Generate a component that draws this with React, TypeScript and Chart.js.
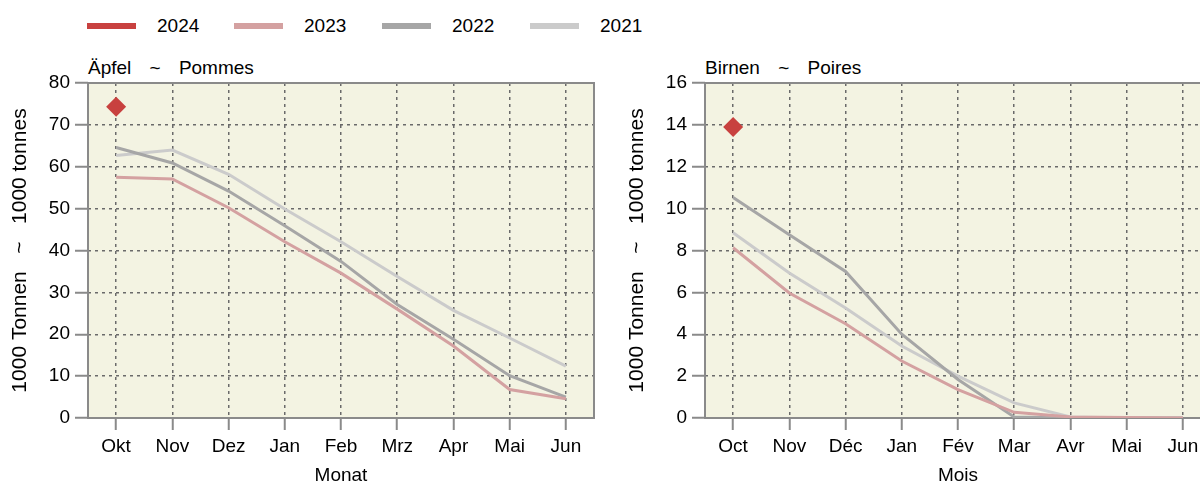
import React, { useEffect, useRef } from 'react';
import { Chart, registerables } from 'chart.js';

Chart.register(...registerables);

const FONT = '"Liberation Sans", Arial, Helvetica, sans-serif';
const FS = 19;
const FS_YTITLE = 21;

const seriesYears = ['2024', '2023', '2022', '2021'];
const seriesColors = ['#c8413f', '#d4a1a1', '#a6a6a6', '#cbcbcb'];

// Äpfel ~ Pommes (1000 t)
const monthsDE = ['Okt', 'Nov', 'Dez', 'Jan', 'Feb', 'Mrz', 'Apr', 'Mai', 'Jun'];
const apples2024 = [74.3, null, null, null, null, null, null, null, null];
const apples2023 = [57.5, 57.1, 50.2, 42.1, 34.6, 26.0, 17.2, 6.8, 4.6];
const apples2022 = [64.6, 60.9, 54.2, 45.9, 37.4, 27.1, 18.8, 10.1, 5.0];
const apples2021 = [62.7, 64.0, 58.2, 49.9, 42.1, 33.8, 25.7, 19.1, 12.4];
const applesTicks = { min: 0, max: 80, step: 10 };

// Birnen ~ Poires (1000 t)
const monthsFR = ['Oct', 'Nov', 'Déc', 'Jan', 'Fév', 'Mar', 'Avr', 'Mai', 'Jun'];
const pears2024 = [13.9, null, null, null, null, null, null, null, null];
const pears2023 = [8.13, 5.97, 4.5, 2.72, 1.36, 0.27, 0.05, 0.02, 0.0];
const pears2022 = [10.53, 8.75, 7.0, 4.0, 1.84, 0.05, 0.0, 0.0, 0.0];
const pears2021 = [8.85, 6.93, 5.25, 3.44, 2.0, 0.72, 0.05, 0.0, 0.0];
const pearsTicks = { min: 0, max: 16, step: 2 };

const yTitle = '1000 Tonnen   ~   1000 tonnes';

const BG = '#f3f3e2';
const GRID = '#6a6a6a';
const AXIS = '#8a8a8a';

const panelPlugin = {
  id: 'panelBox',
  beforeDraw(chart: any) {
    const { ctx, chartArea: a } = chart;
    ctx.save();
    ctx.fillStyle = BG;
    ctx.fillRect(a.left, a.top, a.right - a.left, a.bottom - a.top);
    ctx.restore();
  },
  beforeDatasetsDraw(chart: any) {
    const { ctx, chartArea: a } = chart;
    ctx.save();
    ctx.strokeStyle = AXIS;
    ctx.lineWidth = 2;
    ctx.strokeRect(a.left, a.top, a.right - a.left, a.bottom - a.top);
    ctx.restore();
  },
};

function buildConfig(labels: string[], s24: any[], s23: number[], s22: number[], s21: number[], yt: any, xTitle: string): any {
  const lineDs = (data: number[], i: number) => ({
    label: seriesYears[i],
    data,
    borderColor: seriesColors[i],
    backgroundColor: seriesColors[i],
    borderWidth: 3,
    pointRadius: 0,
    tension: 0,
    order: i,
  });
  const font = { family: FONT, size: FS };
  return {
    type: 'line',
    data: {
      labels,
      datasets: [
        {
          label: seriesYears[0],
          data: s24,
          showLine: false,
          pointStyle: 'rectRot',
          pointRadius: 10,
          pointBorderWidth: 0,
          backgroundColor: seriesColors[0],
          borderColor: seriesColors[0],
          order: 0,
        },
        lineDs(s23, 1),
        lineDs(s22, 2),
        lineDs(s21, 3),
      ],
    },
    options: {
      responsive: false,
      animation: false,
      layout: { padding: { top: 33, right: 16, left: 0, bottom: 0 } },
      plugins: { legend: { display: false }, tooltip: { enabled: false }, title: { display: false } },
      scales: {
        x: {
          type: 'category',
          offset: true,
          grid: {
            offset: false,
            color: GRID,
            lineWidth: 1.5,
            drawTicks: true,
            tickLength: 12,
            tickColor: AXIS,
            tickWidth: 2,
          },
          border: { display: false, dash: [3, 4] },
          ticks: { color: '#000', font, padding: 5.6, maxRotation: 0, autoSkip: false },
          title: { display: true, text: xTitle, color: '#000', font, padding: { top: 0, bottom: 12.9 } },
          afterFit: (s: any) => { s.height = 82; },
        },
        y: {
          min: yt.min,
          max: yt.max,
          grid: {
            color: GRID,
            lineWidth: 1.5,
            drawTicks: true,
            tickLength: 13,
            tickColor: AXIS,
            tickWidth: 2,
          },
          border: { display: false, dash: [3, 4] },
          ticks: { stepSize: yt.step, color: '#000', font, padding: 5 },
          title: {
            display: true,
            text: yTitle,
            color: '#000',
            font: { family: FONT, size: FS_YTITLE },
            padding: { top: 7.4, bottom: 0 },
          },
          afterFit: (s: any) => { s.width = 88; },
        },
      },
    },
    plugins: [panelPlugin],
  };
}

function Panel(props: { cfg: () => any; left: number }) {
  const ref = useRef<HTMLCanvasElement>(null);
  useEffect(() => {
    const chart = new Chart(ref.current as HTMLCanvasElement, props.cfg());
    return () => chart.destroy();
  }, []);
  return (
    <canvas
      ref={ref}
      width={610}
      height={450}
      style={{ position: 'absolute', left: props.left, top: 50, width: 610, height: 450 }}
    />
  );
}

const textStyle: React.CSSProperties = {
  position: 'absolute',
  fontFamily: FONT,
  fontSize: FS,
  lineHeight: 1,
  color: '#000',
  whiteSpace: 'pre',
};

export default function App() {
  const legendLeft = [87, 234, 382, 530];
  return (
    <div
      style={{
        position: 'fixed',
        left: 0,
        top: 0,
        width: 1200,
        height: 484,
        overflow: 'hidden',
        background: '#fff',
      }}
    >
      {seriesYears.map((y, i) => (
        <React.Fragment key={y}>
          <div
            style={{
              position: 'absolute',
              left: legendLeft[i],
              top: 23,
              width: 49,
              height: 6,
              background: seriesColors[i],
            }}
          />
          <div style={{ ...textStyle, left: legendLeft[i] + 70, top: 16 }}>{y}</div>
        </React.Fragment>
      ))}
      <div style={{ ...textStyle, left: 88, top: 58, wordSpacing: '0.8px' }}>{'Äpfel   ~   Pommes'}</div>
      <div style={{ ...textStyle, left: 705, top: 58, wordSpacing: '0.8px' }}>{'Birnen   ~   Poires'}</div>
      <Panel
        left={0}
        cfg={() => buildConfig(monthsDE, apples2024, apples2023, apples2022, apples2021, applesTicks, 'Monat')}
      />
      <Panel
        left={617}
        cfg={() => buildConfig(monthsFR, pears2024, pears2023, pears2022, pears2021, pearsTicks, 'Mois')}
      />
    </div>
  );
}
